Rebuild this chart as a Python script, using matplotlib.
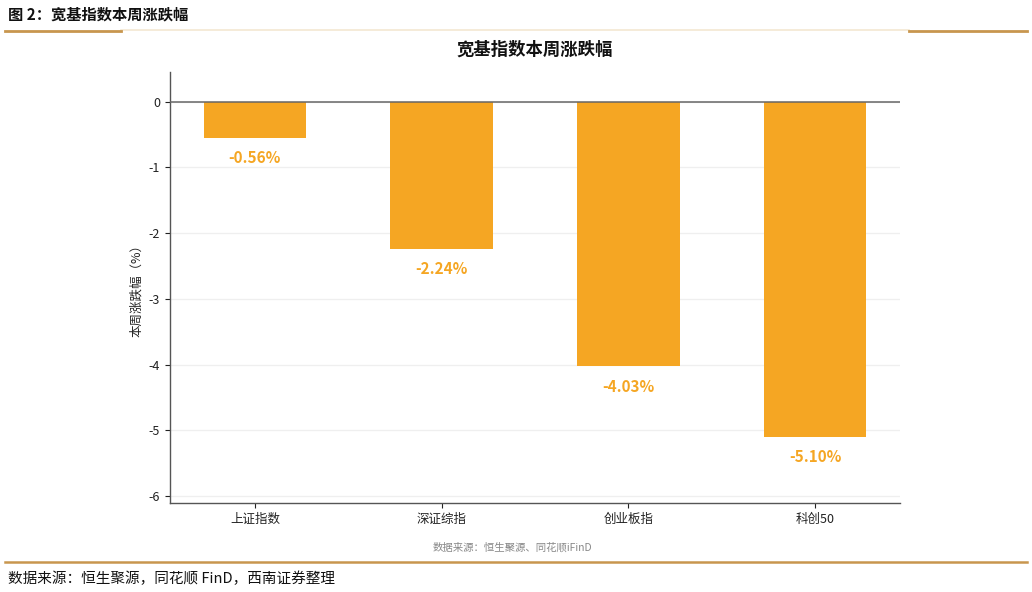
import matplotlib
matplotlib.use("Agg")
import matplotlib.pyplot as plt
from matplotlib.lines import Line2D

plt.rcParams["font.family"] = ["Noto Sans CJK SC", "DejaVu Sans"]
plt.rcParams["axes.unicode_minus"] = False

# ── DATA ────────────────────────────────────────────────────
indices = ["上证指数", "深证综指", "创业板指", "科创50"]
weekly_change = [-0.56, -2.24, -4.03, -5.10]
y_ticks = [0, -1, -2, -3, -4, -5, -6]

BAR_COLOR = "#F5A623"
GOLD = "#C8964E"

fig = plt.figure(figsize=(10.32, 5.92), dpi=100)

# header / footer decoration
fig.text(0.008, 0.976, "图 2：宽基指数本周涨跌幅", fontsize=11, fontweight="bold",
         ha="left", va="center", color="#111111")
fig.add_artist(Line2D([0.117, 0.881], [0.949, 0.949], color="#F3E8D2", lw=1.2))
fig.add_artist(Line2D([0.005, 0.117], [0.947, 0.947], color=GOLD, lw=2))
fig.add_artist(Line2D([0.881, 0.995], [0.947, 0.947], color=GOLD, lw=2))
fig.add_artist(Line2D([0.005, 0.995], [0.050, 0.050], color=GOLD, lw=1.8))
fig.text(0.008, 0.023, "数据来源：恒生聚源，同花顺 FinD，西南证券整理", fontsize=10.5,
         style="italic", ha="left", va="center", color="#111111")

# chart
ax = fig.add_axes([0.1647, 0.1495, 0.7074, 0.7289])
x = range(len(indices))
ax.bar(x, weekly_change, width=0.55, color=BAR_COLOR, zorder=3)
for i, v in zip(x, weekly_change):
    ax.annotate(f"{v:.2f}%", (i, v), xytext=(0, -14.5), textcoords="offset points",
                ha="center", va="center", fontsize=11, fontweight="bold", color=BAR_COLOR)

ax.axhline(0, color="#666666", lw=1.1, zorder=4)
ax.set_xlim(-0.455, 3.455)
ax.set_ylim(-6.114, 0.449)
ax.set_yticks(y_ticks)
ax.set_yticklabels([str(t) for t in y_ticks])
ax.set_xticks(list(x))
ax.set_xticklabels(indices)
ax.tick_params(labelsize=9, colors="#222222", length=3.5, width=0.8)
ax.grid(axis="y", color="#EFEFEF", lw=0.9, zorder=0)
ax.spines[["top", "right"]].set_visible(False)
ax.spines[["left", "bottom"]].set_color("#555555")
ax.spines[["left", "bottom"]].set_linewidth(1.0)
ax.set_ylabel("本周涨跌幅（%）", fontsize=9, color="#222222", labelpad=4)

fig.text(0.518, 0.916, "宽基指数本周涨跌幅", fontsize=12.5, fontweight="bold",
         ha="center", va="center", color="#111111")
fig.text(0.497, 0.076, "数据来源：恒生聚源、同花顺iFinD", fontsize=7.5,
         ha="center", va="center", color="#888888")

fig.savefig("out.png", dpi=100)
